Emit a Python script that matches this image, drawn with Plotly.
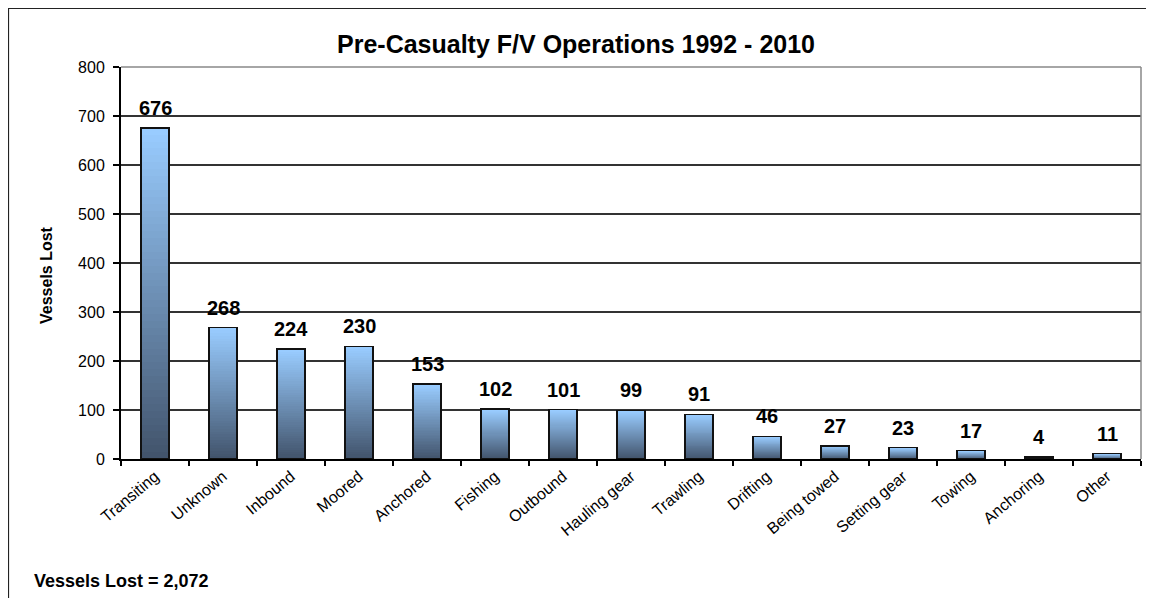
import plotly.graph_objects as go

categories = ["Transiting", "Unknown", "Inbound", "Moored", "Anchored", "Fishing",
              "Outbound", "Hauling gear", "Trawling", "Drifting", "Being towed",
              "Setting gear", "Towing", "Anchoring", "Other"]
values = [676, 268, 224, 230, 153, 102, 101, 99, 91, 46, 27, 23, 17, 4, 11]
y_ticks = [0, 100, 200, 300, 400, 500, 600, 700, 800]
title_text = "Pre-Casualty F/V Operations 1992 - 2010"
total_text = "Vessels Lost = 2,072"

FONT = "Arial, Liberation Sans, sans-serif"
W, H = 1146, 590          # page has 8px body margin
L, R, T, B = 113, 13, 59, 139
PW, PH = W - L - R, H - T - B

top_rgb = (153, 204, 255)
bot_rgb = (66, 84, 108)
N = 48

fig = go.Figure()
for k in range(N):
    f = k / (N - 1)
    c = tuple(round(bot_rgb[i] + (top_rgb[i] - bot_rgb[i]) * f) for i in range(3))
    fig.add_trace(go.Bar(
        x=categories, y=[v / N for v in values],
        marker=dict(color="rgb(%d,%d,%d)" % c, line=dict(width=0)),
        showlegend=False, hoverinfo="skip"))

# outline of each bar
fig.add_trace(go.Bar(
    x=categories, y=values, xaxis="x2",
    marker=dict(color="rgba(0,0,0,0)", line=dict(color="#111", width=1.5)),
    showlegend=False, hoverinfo="skip"))

annotations = []
for c, v in zip(categories, values):
    annotations.append(dict(x=c, y=v, xref="x", yref="y", text="<b>%d</b>" % v,
                            showarrow=False, yanchor="bottom", yshift=7,
                            font=dict(family=FONT, size=20, color="black")))
annotations.append(dict(xref="paper", yref="paper", x=(38 - L) / PW, y=(H - B - 267) / PH,
                        text="<b>Vessels Lost</b>", textangle=-90, showarrow=False,
                        xanchor="center", yanchor="middle",
                        font=dict(family=FONT, size=16, color="black")))
annotations.append(dict(xref="paper", yref="paper", x=(24 - L) / PW, y=(H - B - 573) / PH,
                        text="<b>" + total_text + "</b>", showarrow=False,
                        xanchor="left", yanchor="middle",
                        font=dict(family=FONT, size=18, color="black")))

shapes = [
    dict(type="rect", xref="paper", yref="paper", x0=(0.5 - L) / PW, x1=1.2,
         y0=-0.6, y1=(H - B - 0.5) / PH, line=dict(color="#222", width=1.2), layer="below"),
    dict(type="line", xref="paper", yref="paper", x0=0, x1=1, y0=1, y1=1,
         line=dict(color="#888", width=1.5)),
    dict(type="line", xref="paper", yref="paper", x0=1, x1=1, y0=0, y1=1,
         line=dict(color="#888", width=1.5)),
]

fig.update_layout(
    width=W, height=H,
    margin=dict(l=L, r=R, t=T, b=B),
    paper_bgcolor="white", plot_bgcolor="white",
    barmode="stack", bargap=0.59,
    title=dict(text="<b>" + title_text + "</b>", x=568 / W, xanchor="center",
               y=1 - 36 / H, yanchor="middle", xref="container", yref="container",
               font=dict(family=FONT, size=25, color="black")),
    font=dict(family=FONT, size=16, color="black"),
    xaxis=dict(type="category", categoryorder="array", categoryarray=categories,
               range=[-0.5, len(categories) - 0.5],
               showline=True, linecolor="black", linewidth=2,
               ticks="outside", tickson="boundaries", ticklen=5, tickcolor="black",
               tickwidth=1.5, tickangle=-40, tickfont=dict(family=FONT, size=16),
               showgrid=False, zeroline=False),
    xaxis2=dict(type="category", categoryorder="array", categoryarray=categories,
                range=[-0.5, len(categories) - 0.5], overlaying="x", visible=False),
    yaxis=dict(range=[0, 800], tickvals=y_ticks, showline=True, linecolor="black",
               linewidth=2, ticks="outside", ticklen=6, tickcolor="black", tickwidth=1.5,
               ticklabelstandoff=5,
               showgrid=True, gridcolor="#333", gridwidth=1.5, zeroline=False,
               tickfont=dict(family=FONT, size=16)),
    annotations=annotations,
    shapes=shapes,
)

fig.write_html("out.html")
